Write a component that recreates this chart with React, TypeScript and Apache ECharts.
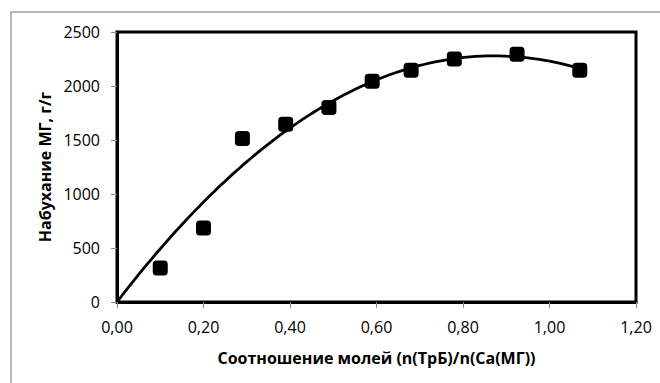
import React, { useEffect, useRef } from "react";
import * as echarts from "echarts";

// Molar ratio n(TrB)/n(Ca(MG)) and swelling degree of the gel, g/g
const ratio = [0.1, 0.2, 0.29, 0.39, 0.49, 0.59, 0.68, 0.78, 0.925, 1.07];
const swelling = [315, 685, 1515, 1645, 1800, 2045, 2145, 2250, 2295, 2145];

const xTicks = [0, 0.2, 0.4, 0.6, 0.8, 1.0, 1.2];
const yTicks = [0, 500, 1000, 1500, 2000, 2500];

// Second-order polynomial trend through the origin: y = a*x + b*x^2 (least squares)
function fitTrend(xs: number[], ys: number[]) {
  let s2 = 0, s3 = 0, s4 = 0, sxy = 0, sx2y = 0;
  xs.forEach((x, i) => {
    const y = ys[i];
    s2 += x * x;
    s3 += x * x * x;
    s4 += x * x * x * x;
    sxy += x * y;
    sx2y += x * x * y;
  });
  const det = s2 * s4 - s3 * s3;
  const a = (sxy * s4 - s3 * sx2y) / det;
  const b = (s2 * sx2y - s3 * sxy) / det;
  return { a, b };
}

export default function App() {
  const ref = useRef<HTMLDivElement>(null);

  useEffect(() => {
    if (!ref.current) return;
    const chart = echarts.init(ref.current, null, { renderer: "svg" });
    const { a, b } = fitTrend(ratio, swelling);
    const xEnd = Math.max(...ratio);
    const trend: number[][] = [];
    const steps = 80;
    for (let i = 0; i <= steps; i++) {
      const x = (xEnd * i) / steps;
      trend.push([x, a * x + b * x * x]);
    }
    const font = "'Open Sans', 'Noto Sans', sans-serif";

    chart.setOption({
      animation: false,
      backgroundColor: "#fff",
      textStyle: { fontFamily: font },
      graphic: [
        {
          type: "rect",
          shape: { x: 11, y: 12, width: 700, height: 420 },
          style: { fill: "none", stroke: "#a0a0a0", lineWidth: 1.5 },
          silent: true,
        },
      ],
      grid: {
        left: 117,
        right: 24,
        top: 32,
        bottom: 81,
        show: true,
        borderColor: "#000",
        borderWidth: 3,
        backgroundColor: "transparent",
      },
      xAxis: {
        type: "value",
        min: xTicks[0],
        max: xTicks[xTicks.length - 1],
        interval: 0.2,
        name: "Соотношение молей (n(ТрБ)/n(Са(МГ))",
        nameLocation: "middle",
        nameGap: 48,
        nameTextStyle: { fontFamily: font, fontSize: 16, fontWeight: "bold", color: "#000" },
        axisLine: { show: true, lineStyle: { color: "#000", width: 3 } },
        axisTick: { show: true, inside: false, length: 6, lineStyle: { color: "#888", width: 1 } },
        axisLabel: {
          fontFamily: font,
          fontSize: 16,
          color: "#000",
          margin: 17,
          formatter: (v: number) => v.toFixed(2).replace(".", ","),
        },
        splitLine: { show: false },
      },
      yAxis: {
        type: "value",
        min: yTicks[0],
        max: yTicks[yTicks.length - 1],
        interval: 500,
        name: "Набухание МГ, г/г",
        nameLocation: "middle",
        nameGap: 62,
        nameRotate: 90,
        nameTextStyle: { fontFamily: font, fontSize: 16, fontWeight: "bold", color: "#000" },
        axisLine: { show: true, lineStyle: { color: "#000", width: 3 } },
        axisTick: { show: true, inside: false, length: 6, lineStyle: { color: "#888", width: 1 } },
        axisLabel: {
          fontFamily: font,
          fontSize: 16,
          color: "#000",
          margin: 17,
          formatter: (v: number) => String(v),
        },
        splitLine: { show: false },
      },
      series: [
        {
          name: "trend",
          type: "line",
          data: trend,
          showSymbol: false,
          smooth: false,
          lineStyle: { color: "#000", width: 2.8 },
          z: 2,
        },
        {
          name: "swelling",
          type: "scatter",
          data: ratio.map((x, i) => [x, swelling[i]]),
          symbol: "roundRect",
          symbolSize: 15,
          itemStyle: { color: "#000", opacity: 1 },
          z: 3,
        },
      ],
    });
    return () => chart.dispose();
  }, []);

  return (
    <div
      ref={ref}
      style={{ position: "fixed", left: 0, top: 0, width: 660, height: 383 }}
    />
  );
}
